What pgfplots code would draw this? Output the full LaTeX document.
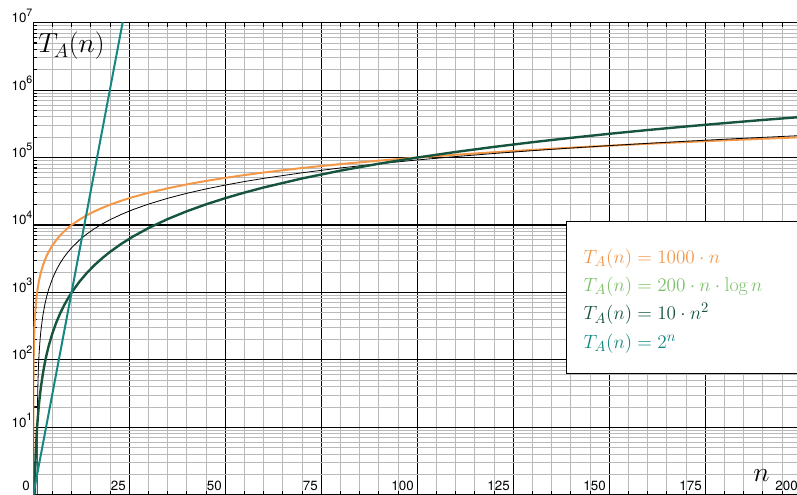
\documentclass[border=0pt]{standalone}
\usepackage{pgfplots}
\pgfplotsset{compat=1.18}
\usepackage{fontspec}
\setsansfont{TeX Gyre Heros}
\definecolor{corange}{RGB}{244,152,72}
\definecolor{clgreen}{RGB}{125,192,105}
\definecolor{cdgreen}{RGB}{22,84,62}
\definecolor{cteal}{RGB}{20,135,130}
\newcommand{\ee}[1]{10\raisebox{5pt}{\fontsize{8}{8}\selectfont #1}}
\begin{document}
\begin{tikzpicture}
\begin{axis}[
  scale only axis, width=576pt, height=354pt,
  ymode=log, xmin=0, xmax=200, ymin=1, ymax=1e7,
  xtick={0,25,...,200}, minor x tick num=4,
  ytick={1,10,100,1000,10000,100000,1000000,10000000},
  yticklabels={,\ee{1},\ee{2},\ee{3},\ee{4},\ee{5},\ee{6},\ee{7}},
  grid=both,
  major grid style={black, line width=0.8pt},
  minor grid style={gray!55, line width=0.7pt},
  axis line style={black, line width=1pt},
  tick style={black, line width=0.8pt}, major tick length=4pt, minor tick length=3pt,
  /pgf/number format/assume math mode=true,
  xticklabel style={anchor=south east, inner sep=2.5pt, font=\sffamily\fontsize{10}{12}\selectfont},
  yticklabel style={anchor=base east, inner sep=0.5pt, font=\sffamily\fontsize{10}{12}\selectfont},
  xlabel={$n$},
  xlabel style={at={(axis description cs:0.9371,0.0275)}, anchor=base west, inner sep=0pt, font=\fontsize{21}{24}\selectfont},
  ylabel={$T_A(n)$},
  ylabel style={at={(axis description cs:0.0061,0.9358)}, anchor=base west, rotate=-90, inner sep=0pt, font=\fontsize{21}{24}\selectfont},
  legend image code/.code={},
  legend cell align=left,
  legend style={at={(0.6936,0.5799)}, anchor=north west, draw=black, line width=0.9pt, fill=white,
    inner xsep=12.75pt, inner ysep=14.7pt, row sep=0pt, column sep=0pt,
    nodes={inner sep=0pt, text height=16.6pt, text depth=4.6pt, text width=147.5pt, align=left, font=\fontsize{15}{18}\selectfont}},
]
% T = 1000 n
\addplot[corange, line width=1.5pt] coordinates {
(0.001,1) (0.002,2) (0.005,5) (0.01,10) (0.02,20) (0.05,50) (0.1,100) (0.2,200) (0.3,300) (0.4,400) (0.5,500) (0.6,600) (0.7,700) (0.8,800) (0.9,900) (1,1000) (1.25,1250) (1.5,1500) (1.75,1750) (2,2000) (2.5,2500) (3,3000) (3.5,3500) (4,4000) (5,5000) (6,6000) (7,7000) (8,8000) (9,9000) (10,10000) (12,12000) (14,14000) (16,16000) (18,18000) (20,20000) (23,23000) (26,26000) (30,30000) (35,35000) (40,40000) (45,45000) (50,50000) (55,55000) (60,60000) (70,70000) (80,80000) (90,90000) (100,100000) (110,110000) (120,120000) (130,130000) (140,140000) (150,150000) (160,160000) (170,170000) (180,180000) (190,190000) (200,200000)};
\addlegendentry{\textcolor{corange}{$T_A(n)=1000\cdot n$}}
% T = 200 n ln n
\addplot[black, line width=0.6pt] coordinates {
(1.005,1.0026) (1.01,2.010) (1.02,4.040) (1.03,6.0891) (1.05,10.246) (1.075,15.549) (1.1,20.968) (1.15,32.145) (1.2,43.757) (1.3,68.215) (1.4,94.212) (1.5,121.64) (1.75,195.87) (2,277.26) (2.5,458.15) (3,659.17) (3.5,876.93) (4,1109.0) (5,1609.4) (6,2150.1) (7,2724.3) (8,3327.1) (9,3955.0) (10,4605.2) (12,5963.8) (14,7389.4) (16,8872.3) (18,10405) (20,11983) (23,14423) (26,16942) (30,20407) (35,24887) (40,29511) (45,34260) (50,39120) (55,44081) (60,49132) (70,59479) (80,70112) (90,80997) (100,92103) (110,103411) (120,114900) (130,126556) (140,138366) (150,150319) (160,162406) (170,174617) (180,186946) (190,199387) (200,211933)};
\addlegendentry{\textcolor{clgreen}{$T_A(n)=200\cdot n\cdot\log n$}}
% T = 10 n^2
\addplot[cdgreen, line width=1.8pt] coordinates {
(0.3162,1) (0.35,1.225) (0.4,1.6) (0.45,2.025) (0.5,2.5) (0.6,3.6) (0.7,4.9) (0.8,6.4) (0.9,8.1) (1,10) (1.25,15.625) (1.5,22.5) (1.75,30.625) (2,40) (2.5,62.5) (3,90) (3.5,122.5) (4,160) (5,250) (6,360) (7,490) (8,640) (9,810) (10,1000) (12,1440) (14,1960) (16,2560) (18,3240) (20,4000) (23,5290) (26,6760) (30,9000) (35,12250) (40,16000) (45,20250) (50,25000) (55,30250) (60,36000) (70,49000) (80,64000) (90,81000) (100,100000) (110,121000) (120,144000) (130,169000) (140,196000) (150,225000) (160,256000) (170,289000) (180,324000) (190,361000) (200,400000)};
\addlegendentry{\textcolor{cdgreen}{$T_A(n)=10\cdot n^2$}}
% T = 2^n
\addplot[cteal, line width=1.5pt] coordinates {
(0,1) (5,32) (10,1024) (15,32768) (20,1048576) (24,16777216)};
\addlegendentry{\textcolor{cteal}{$T_A(n)=2^n$}}
\end{axis}
\pgfresetboundingbox
\path (current axis.south west) ++(-24.975pt,1.275pt) rectangle ++(597.75pt,369.75pt);
\end{tikzpicture}
\end{document}
